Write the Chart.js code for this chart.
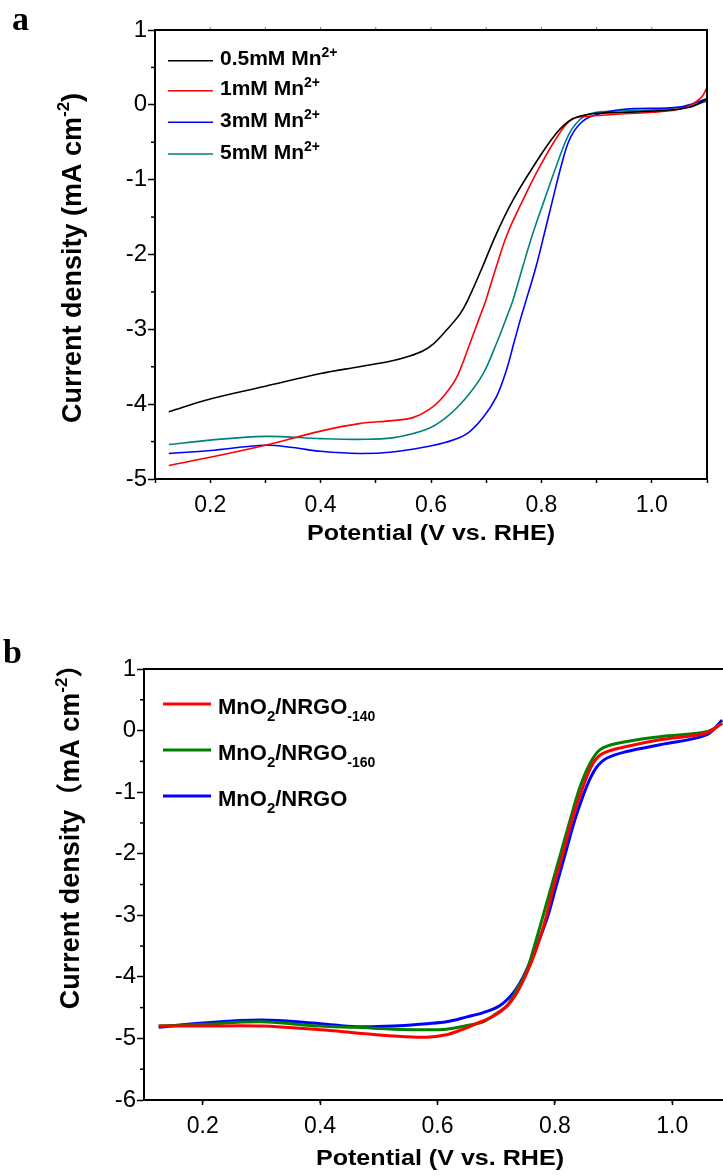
<!DOCTYPE html>
<html>
<head>
<meta charset="utf-8">
<script src="https://cdn.jsdelivr.net/npm/chart.js@4.4.1/dist/chart.umd.min.js"></script>
<style>
  html, body { margin:0; padding:0; background:#fff; overflow:hidden; width:723px; height:1176px; }
  canvas { position:absolute; left:0; }
  #ca { top:0; }
  #cb { top:586px; }
</style>
</head>
<body>
<canvas id="ca" width="723" height="590"></canvas>
<canvas id="cb" width="760" height="590"></canvas>
<script>
// ---------------- Panel a data ----------------
const aNames = ['0.5mM Mn', '1mM Mn', '3mM Mn', '5mM Mn'];
const aSup = '2+';
const aColors = ['#000000', '#ff0000', '#0000ff', '#008080'];

const aX05 = [0.125, 0.2, 0.3, 0.4, 0.47, 0.53, 0.56, 0.585, 0.605, 0.627, 0.652, 0.666, 0.693, 0.718, 0.748, 0.784, 0.826, 0.856, 0.892, 0.95, 1.013, 1.07, 1.1];
const aY05 = [-4.10, -3.93, -3.76, -3.59, -3.50, -3.42, -3.36, -3.29, -3.19, -3.02, -2.80, -2.62, -2.17, -1.73, -1.28, -0.84, -0.39, -0.19, -0.12, -0.10, -0.08, -0.03, 0.08];

const aX1 = [0.125, 0.2, 0.3, 0.4, 0.47, 0.53, 0.567, 0.597, 0.621, 0.646, 0.670, 0.688, 0.699, 0.718, 0.738, 0.766, 0.796, 0.832, 0.856, 0.892, 0.95, 1.0, 1.05, 1.073, 1.09, 1.1];
const aY1 = [-4.82, -4.71, -4.55, -4.36, -4.26, -4.22, -4.18, -4.07, -3.91, -3.65, -3.20, -2.84, -2.62, -2.17, -1.73, -1.28, -0.84, -0.39, -0.19, -0.15, -0.12, -0.10, -0.06, 0.01, 0.10, 0.23];

const aX3 = [0.125, 0.2, 0.3, 0.35, 0.4, 0.47, 0.53, 0.591, 0.627, 0.664, 0.694, 0.718, 0.736, 0.751, 0.763, 0.772, 0.790, 0.805, 0.820, 0.835, 0.850, 0.869, 0.892, 0.95, 1.05, 1.1];
const aY3 = [-4.66, -4.62, -4.55, -4.58, -4.63, -4.66, -4.64, -4.57, -4.51, -4.40, -4.18, -3.91, -3.56, -3.16, -2.84, -2.62, -2.17, -1.73, -1.28, -0.84, -0.48, -0.26, -0.15, -0.06, -0.03, 0.08];

const aX5 = [0.125, 0.2, 0.3, 0.4, 0.47, 0.53, 0.591, 0.627, 0.664, 0.694, 0.718, 0.739, 0.748, 0.766, 0.784, 0.805, 0.826, 0.850, 0.874, 0.9, 0.95, 1.0, 1.073, 1.1];
const aY5 = [-4.54, -4.48, -4.43, -4.46, -4.47, -4.45, -4.34, -4.18, -3.91, -3.60, -3.20, -2.80, -2.62, -2.17, -1.73, -1.28, -0.84, -0.39, -0.17, -0.10, -0.08, -0.07, -0.01, 0.05];

// ---------------- Panel b data ----------------
const bNames = [['MnO', '2', '/NRGO', '-140'], ['MnO', '2', '/NRGO', '-160'], ['MnO', '2', '/NRGO', '']];
const bColors = ['#ff0000', '#008000', '#0000ff'];

const bX140 = [0.125, 0.2, 0.3, 0.4, 0.462, 0.525, 0.582, 0.615, 0.638, 0.666, 0.695, 0.718, 0.735, 0.752, 0.768, 0.783, 0.798, 0.814, 0.829, 0.848, 0.865, 0.882, 0.922, 0.979, 1.058, 1.085];
const bY140 = [-4.80, -4.80, -4.80, -4.86, -4.91, -4.96, -4.98, -4.94, -4.87, -4.76, -4.64, -4.48, -4.26, -3.94, -3.56, -3.10, -2.53, -1.99, -1.45, -0.91, -0.53, -0.37, -0.26, -0.15, -0.04, 0.12];

const bX160 = [0.125, 0.2, 0.3, 0.4, 0.462, 0.525, 0.582, 0.615, 0.650, 0.678, 0.695, 0.718, 0.735, 0.752, 0.765, 0.778, 0.794, 0.810, 0.826, 0.843, 0.860, 0.877, 0.905, 0.979, 1.058, 1.085];
const bY160 = [-4.80, -4.77, -4.73, -4.80, -4.82, -4.85, -4.86, -4.85, -4.79, -4.73, -4.63, -4.47, -4.21, -3.90, -3.50, -3.07, -2.53, -1.99, -1.45, -0.91, -0.53, -0.31, -0.21, -0.10, -0.02, 0.12];

const bXN = [0.125, 0.2, 0.3, 0.4, 0.462, 0.525, 0.582, 0.615, 0.650, 0.678, 0.706, 0.729, 0.746, 0.763, 0.786, 0.802, 0.818, 0.834, 0.854, 0.870, 0.888, 0.922, 0.979, 1.058, 1.085];
const bYN = [-4.82, -4.75, -4.70, -4.76, -4.81, -4.80, -4.76, -4.73, -4.65, -4.58, -4.47, -4.26, -4.00, -3.64, -3.07, -2.53, -1.99, -1.45, -0.91, -0.61, -0.45, -0.34, -0.23, -0.07, 0.17];

// ---------------- Axis text ----------------
const xTitle = 'Potential (V vs. RHE)';
const yTitleA = [['Current density (mA cm', 0], ['-2', 1], [')', 0]];
const yTitleB = [['Current density（mA cm', 0], ['-2', 1], ['）', 0]];

// ---------------- helpers ----------------
const FONT = '"Liberation Sans", Arial, sans-serif';
const RFONT = '"Liberation Sans", Arial, "Noto Sans CJK SC", sans-serif';
const pts = (xs, ys) => xs.map((x, i) => ({ x, y: ys[i] }));

function segWidth(ctx, segs) {
  let w = 0;
  for (const s of segs) { ctx.font = `bold ${s.s}px ${RFONT}`; w += ctx.measureText(s.t).width; }
  return w;
}
function drawSegs(ctx, x, y, segs) {
  let cx = x;
  for (const s of segs) {
    ctx.font = `bold ${s.s}px ${RFONT}`;
    ctx.fillText(s.t, cx, y + (s.dy || 0));
    cx += ctx.measureText(s.t).width;
  }
}

const deco = {
  id: 'deco',
  afterDatasetsDraw(chart, args, o) {
    const ctx = chart.ctx, ca = chart.chartArea;
    const xs = chart.scales.x, ys = chart.scales.y;
    ctx.save();
    ctx.fillStyle = '#000'; ctx.strokeStyle = '#000';
    ctx.textAlign = 'left'; ctx.textBaseline = 'alphabetic';
    ctx.lineWidth = 2;
    ctx.beginPath();
    ctx.moveTo(ca.left, ca.top); ctx.lineTo(ca.right, ca.top); ctx.lineTo(ca.right, ca.bottom);
    ctx.stroke();
    ctx.lineWidth = 1.5;
    for (let v = ys.min + o.yMinor; v < ys.max; v += 2 * o.yMinor) {
      const py = ys.getPixelForValue(v);
      ctx.beginPath(); ctx.moveTo(ca.left - o.yMinorLen, py); ctx.lineTo(ca.left, py); ctx.stroke();
    }
    if (o.xMinor) {
      for (let v = xs.min + o.xMinor; v < xs.max; v += 2 * o.xMinor) {
        const px = xs.getPixelForValue(v);
        ctx.beginPath(); ctx.moveTo(px, ca.bottom); ctx.lineTo(px, ca.bottom + o.xMinorLen); ctx.stroke();
      }
    }
    if (o.topTicks) {
      ctx.strokeStyle = '#777'; ctx.lineWidth = 1;
      for (let k = 1; k < 10; k++) {
        const px = xs.getPixelForValue(xs.min + k * 0.1);
        ctx.beginPath(); ctx.moveTo(px, ca.top - 1); ctx.lineTo(px, ca.top - 3); ctx.stroke();
      }
      ctx.strokeStyle = '#000';
    }
    o.legend.forEach((it) => {
      ctx.strokeStyle = it.color; ctx.lineWidth = o.legLW;
      ctx.beginPath(); ctx.moveTo(o.legX0, it.y); ctx.lineTo(o.legX1, it.y); ctx.stroke();
      drawSegs(ctx, o.legTX, it.y + o.legDy, it.segs);
    });
    ctx.font = `bold 22px ${FONT}`;
    ctx.textAlign = 'center';
    ctx.save();
    ctx.translate(o.xtX, o.xtY); ctx.scale(1.14, 1);
    ctx.fillText(xTitle, 0, 0);
    ctx.restore();
    ctx.textAlign = 'left';
    const w = segWidth(ctx, o.yt);
    ctx.save();
    ctx.translate(o.ytX, o.ytY); ctx.rotate(-Math.PI / 2);
    drawSegs(ctx, -w / 2, 0, o.yt);
    ctx.restore();
    ctx.font = 'bold 34px "Liberation Serif", "Times New Roman", serif';
    ctx.fillText(o.letter, o.letX, o.letY);
    ctx.restore();
  }
};

function makeTitleSegs(arr) {
  return arr.map(([t, sup]) => sup ? { t, s: 17, dy: -12 } : { t, s: 27 });
}

const xTickFont = { family: FONT, size: 23 };
const yTickFont = { family: FONT, size: 24 };

// ---------------- Chart a ----------------
new Chart(document.getElementById('ca'), {
  type: 'line',
  data: {
    datasets: [
      { data: pts(aX05, aY05), borderColor: aColors[0] },
      { data: pts(aX1, aY1), borderColor: aColors[1] },
      { data: pts(aX3, aY3), borderColor: aColors[2] },
      { data: pts(aX5, aY5), borderColor: aColors[3] }
    ]
  },
  options: {
    responsive: false, animation: false, devicePixelRatio: 1,
    layout: { padding: { top: 30, right: 16, left: 0, bottom: 0 } },
    elements: { point: { radius: 0 }, line: { borderWidth: 1.6, tension: 0.35, fill: false } },
    plugins: {
      legend: { display: false }, tooltip: { enabled: false },
      deco: {
        yMinor: 0.5, yMinorLen: 4, xMinor: 0, topTicks: true,
        legend: aNames.map((n, i) => ({ color: aColors[i], y: [60.7, 90.7, 122.3, 154][i],
          segs: [{ t: n, s: 21 }, { t: aSup, s: 14, dy: -8 }] })),
        legX0: 168, legX1: 213, legTX: 220, legDy: 4.5, legLW: 1.6,
        xtX: 431, xtY: 540, yt: makeTitleSegs(yTitleA), ytX: 81, ytY: 258,
        letter: 'a', letX: 12, letY: 30
      }
    },
    scales: {
      x: {
        type: 'linear', min: 0.1, max: 1.1,
        afterFit(s) { s.height = 111; },
        ticks: { stepSize: 0.1, autoSkip: false, maxRotation: 0, padding: 9, color: '#000', font: xTickFont,
          callback: v => { const k = Math.round(v * 10); return (k % 2 === 0 && k >= 2 && k <= 10) ? (k / 10).toFixed(1) : ''; } },
        grid: { drawOnChartArea: false, tickLength: 4, tickColor: '#000', tickWidth: 1.5 },
        border: { color: '#000', width: 2 }
      },
      y: {
        min: -5, max: 1,
        afterFit(s) { s.width = 155; },
        ticks: { stepSize: 1, padding: 1, color: '#000', font: yTickFont, callback: v => String(Math.round(v)) },
        grid: { drawOnChartArea: false, tickLength: 7, tickColor: '#000', tickWidth: 1.5 },
        border: { color: '#000', width: 2 }
      }
    }
  },
  plugins: [deco]
});

// ---------------- Chart b ----------------
new Chart(document.getElementById('cb'), {
  type: 'line',
  data: {
    datasets: [
      { data: pts(bX140, bY140), borderColor: bColors[0] },
      { data: pts(bX160, bY160), borderColor: bColors[1] },
      { data: pts(bXN, bYN), borderColor: bColors[2] }
    ]
  },
  options: {
    responsive: false, animation: false, devicePixelRatio: 1,
    layout: { padding: { top: 83, right: 29, left: 0, bottom: 0 } },
    elements: { point: { radius: 0 }, line: { borderWidth: 3, tension: 0.35, fill: false } },
    plugins: {
      legend: { display: false }, tooltip: { enabled: false },
      deco: {
        yMinor: 0.5, yMinorLen: 4, xMinor: 0.1, xMinorLen: 3, topTicks: false,
        legend: bNames.map((n, i) => ({ color: bColors[i], y: [704, 750, 796][i] - 586,
          segs: [{ t: n[0], s: 22 }, { t: n[1], s: 15, dy: 7 }, { t: n[2], s: 22 }, { t: n[3], s: 14, dy: 7 }] })),
        legX0: 163, legX1: 211, legTX: 218, legDy: 9.5, legLW: 3,
        xtX: 440, xtY: 1165 - 586, yt: makeTitleSegs(yTitleB), ytX: 79, ytY: 830 - 586,
        letter: 'b', letX: 3, letY: 663 - 586
      }
    },
    scales: {
      x: {
        type: 'linear', min: 0.1, max: 1.1,
        afterFit(s) { s.height = 76; },
        ticks: { stepSize: 0.1, autoSkip: false, maxRotation: 0, padding: 8, color: '#000', font: xTickFont,
          callback: v => { const k = Math.round(v * 10); return (k % 2 === 0 && k >= 2 && k <= 10) ? (k / 10).toFixed(1) : ''; } },
        grid: { drawOnChartArea: false, tickLength: 5, tickColor: ctx => (Math.round(ctx.tick.value * 10) % 2 === 0 ? '#000' : 'rgba(0,0,0,0)'), tickWidth: 1.5 },
        border: { color: '#000', width: 2 }
      },
      y: {
        min: -6, max: 1,
        afterFit(s) { s.width = 144; },
        ticks: { stepSize: 1, padding: 1, color: '#000', font: yTickFont, callback: v => String(Math.round(v)) },
        grid: { drawOnChartArea: false, tickLength: 7, tickColor: '#000', tickWidth: 1.5 },
        border: { color: '#000', width: 2 }
      }
    }
  },
  plugins: [deco]
});
</script>
</body>
</html>
